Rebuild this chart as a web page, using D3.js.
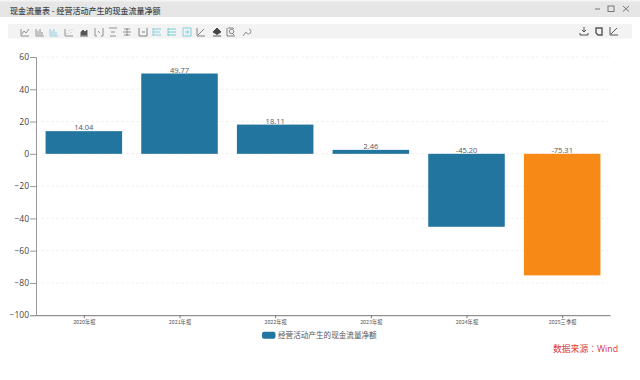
<!DOCTYPE html>
<html><head><meta charset="utf-8">
<script src="https://cdn.jsdelivr.net/npm/d3@7"></script>
<style>
html,body{margin:0;padding:0;background:#fff;overflow:hidden}
svg{display:block}
text{font-family:"Open Sans","Noto Sans CJK SC",sans-serif}
</style></head><body><svg id="c" width="640" height="380"></svg>
<script>
const categories=["2020年报","2021年报","2022年报","2023年报","2024年报","2025三季报"];
const values=[14.04,49.77,18.11,2.46,-45.20,-75.31];
const labels=["14.04","49.77","18.11","2.46","-45.20","-75.31"];
const yTicks=[60,40,20,0,-20,-40,-60,-80,-100];
const seriesName="经营活动产生的现金流量净额";
const windowTitle="现金流量表 - 经营活动产生的现金流量净额";
const sourceText="数据来源：Wind";
const barColor="#21759f", lastColor="#f78a16";

const svg=d3.select("#c");
// window chrome
svg.append("rect").attr("width",640).attr("height",380).attr("fill","#fff");
svg.append("rect").attr("width",640).attr("height",17).attr("fill","#e6e6e6");
svg.append("rect").attr("width",640).attr("height",1.5).attr("fill","#f4f4f4");
svg.append("text").attr("x",10).attr("y",13.5).attr("font-size",8).attr("font-weight",500).attr("fill","#444").style("font-family",'"Noto Sans CJK SC",sans-serif').text(windowTitle);
svg.append("rect").attr("x",8).attr("y",24).attr("width",624).attr("height",14.5).attr("fill","#f3f3f3");
const ctl=svg.append("g").attr("fill","none").attr("stroke","#777").attr("stroke-width",1);
ctl.append("path").attr("d","M595 9H600");
ctl.append("rect").attr("x",608).attr("y",6).attr("width",6).attr("height",5.5);
ctl.append("path").attr("d","M623 6L629 11.5M629 6L623 11.5");
// toolbar icons
const iconX=[25,40,54,69,84,99,113,127,143,157,172,187,201,217,231,246];
const iconCol=["#888","#888","#8cd","#888","#555","#888","#888","#888","#777","#7cd","#6cc","#7cd","#777","#444","#777","#888"];
const iconFill=["none","none","none","none","#555","none","none","none","none","none","none","none","none","#444","none","none"];
const iconD=[
 "M-4 4V-3M-4 4H4M-3 2L-1 -1L1 1L4 -3",
 "M-4 4V-3M-4 4H4M-2 3V-1M0 3V-3M2 3V0",
 "M-4 4V-3M-4 4H4M-2 3V-1M0 3V-3M2 3V0",
 "M-4 4V-3M-4 4H4M-2 1V1.5M0 -2V-1.5M2 0V.5M3 -3V-2.5",
 "M-4 4H4M-3 3V0L-1 -2L1 0L3 -2V3Z",
 "M-4 -4V4H-2M4 -4V4H2M-1 -1L1 1",
 "M-4 -4H4M-3 4H3M-2 0H2",
 "M0 -4V4M-4 0H4M-3 -3H3M-3 3H3",
 "M-4 -4V4H4V-4M-1 0H2",
 "M-4 -4V4M-4 -3H4M-4 0H3M-4 3H4",
 "M-4 -4V4M-4 -3H4M-4 0H4M-4 3H4",
 "M-4 -4H4V4H-4ZM-2 0H2M0 -2L2 0L0 2",
 "M-4 -4V4H4M-3 3L3 -3",
 "M0 -4L4 0L0 2.5L-4 0ZM-4 4H4",
 "M-4 -4V4H4M-3 -4H2L3 -3M-1 -2A2.2 2.2 0 1 0 -0.9 -2.1M1 1L3 3",
 "M-3 4L0 0M0 0A2.5 2.5 0 1 0 3 -3"];
const tb=svg.append("g");
iconX.forEach((x,i)=>tb.append("path").attr("transform",`translate(${x},32)`).attr("d",iconD[i]).attr("fill",iconFill[i]).attr("stroke",iconCol[i]).attr("stroke-width",.9));
const tbR=svg.append("g").attr("fill","none").attr("stroke","#555").attr("stroke-width",1);
tbR.append("path").attr("d","M580 33V35H588V33M584 27V32M582 30L584 32L586 30");
tbR.append("path").attr("d","M596 28H602V35H598L596 33Z").attr("stroke-width",1.4);
tbR.append("path").attr("d","M610 27V35H618M611 34L617 28");

// plot
const x=d3.scaleBand().domain(categories).range([36,610]).paddingInner(0.2).paddingOuter(0.1);
const xTick=d3.scalePoint().domain(categories).range([36,610]).padding(0.5);
const y=d3.scaleLinear().domain([-100,60]).range([315.2,57]);

const grid=svg.append("g");
grid.selectAll("line").data(yTicks.filter(d=>d!==-100)).join("line")
 .attr("x1",36).attr("x2",610).attr("y1",d=>y(d)).attr("y2",d=>y(d))
 .attr("stroke","#eeeeee").attr("stroke-width",.8).attr("stroke-dasharray","3 2");

svg.selectAll("rect.bar").data(values).join("rect").attr("class","bar")
 .attr("x",(d,i)=>x(categories[i])).attr("width",x.bandwidth())
 .attr("y",d=>y(Math.max(d,0))).attr("height",d=>Math.abs(y(d)-y(0)))
 .attr("fill",(d,i)=>i===values.length-1?lastColor:barColor);

svg.selectAll("text.val").data(values).join("text").attr("class","val")
 .attr("x",(d,i)=>xTick(categories[i])).attr("y",d=>d>=0?y(d)-1:y(0)-1)
 .attr("text-anchor","middle").attr("font-size",7.5).attr("fill","#555")
 .text((d,i)=>labels[i]);

const ya=svg.append("g").attr("transform","translate(36,0)")
 .call(d3.axisLeft(y).tickValues(yTicks).tickSize(6).tickPadding(1).tickFormat(d3.format("d")));
ya.select(".domain").attr("stroke","#999").attr("stroke-width",1);
ya.selectAll("line").attr("stroke","#999");
ya.selectAll("text").attr("font-size",8.5).attr("fill","#444").style("font-family",'"Open Sans",sans-serif');

const xa=svg.append("g").attr("transform","translate(0,315.2)")
 .call(d3.axisBottom(xTick).tickSize(3).tickPadding(2.5).tickSizeOuter(0));
xa.select(".domain").attr("stroke","#777").attr("stroke-width",1);
xa.selectAll("line").attr("stroke","#777");
xa.selectAll("text").attr("font-size",5.3).attr("fill","#555").style("font-family",'"Noto Sans CJK SC",sans-serif');

// legend
svg.append("rect").attr("x",262).attr("y",331.7).attr("width",13.5).attr("height",7).attr("rx",2).attr("fill",barColor);
svg.append("text").attr("x",278).attr("y",338).attr("font-size",7.6).attr("fill","#555").style("font-family",'"Noto Sans CJK SC",sans-serif').text(seriesName);
svg.append("text").attr("x",553).attr("y",351.5).attr("font-size",8.8).attr("fill","#d8343c").style("font-family",'"Open Sans","Noto Sans CJK TC",sans-serif').text(sourceText);
</script></body></html>
